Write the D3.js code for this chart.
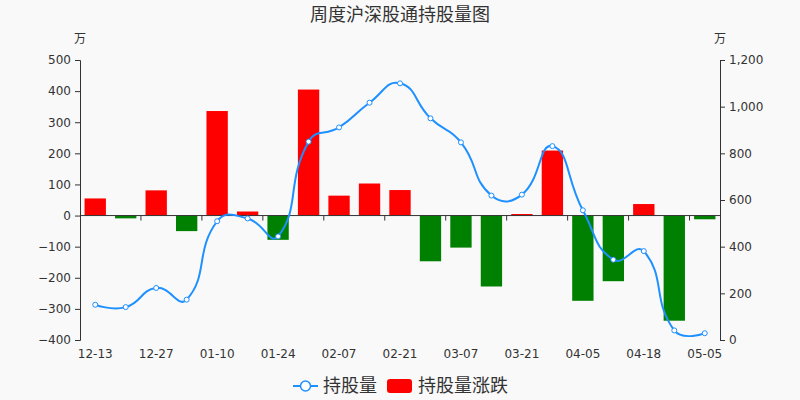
<!DOCTYPE html>
<html><head><meta charset="utf-8">
<script src="https://cdn.jsdelivr.net/npm/d3@7/dist/d3.min.js"></script>
<style>body{margin:0;background:#f9f9f9}svg{display:block}text{font-family:"DejaVu Sans",sans-serif}</style>
</head><body><svg id="c" width="800" height="400"></svg>
<script>
const categories = ["12-13","12-20","12-27","01-03","01-10","01-17","01-24","01-31","02-07","02-14","02-21","02-28","03-07","03-14","03-21","03-28","04-05","04-11","04-18","04-25","05-05"];
const holdings = [151,141,223,173,509,521,444,850,911,1017,1100,950,847,619,623,831,556,344,381,41,29];
const changes = [55,-9,81,-50,336,13,-78,405,64,103,82,-147,-103,-228,5,209,-274,-211,37,-338,-12];
const leftTicks = [500,400,300,200,100,0,-100,-200,-300,-400];
const rightTicks = [1200,1000,800,600,400,200,0];
const labelEvery = 2;

const svg = d3.select("#c");
const L = 80, R = 720, T = 60, B = 340;
const x = d3.scaleBand().domain(categories).range([L, R]).paddingInner(0).paddingOuter(0);
const yL = d3.scaleLinear().domain([-400, 500]).range([B, T]);
const yR = d3.scaleLinear().domain([0, 1200]).range([B, T]);
const txt = "#333";

svg.append("rect").attr("width",800).attr("height",400).attr("fill","#f9f9f9");

// title
svg.append("text").attr("x",400).attr("y",21).attr("text-anchor","middle")
  .attr("font-size",18).attr("fill",txt).style("font-family","'Noto Sans CJK SC',sans-serif").text("周度沪深股通持股量图");
// units
svg.append("text").attr("x",80).attr("y",43).attr("text-anchor","middle").attr("font-size",12).attr("fill",txt)
  .style("font-family","'Noto Sans CJK SC',sans-serif").text("万");
svg.append("text").attr("x",720).attr("y",43).attr("text-anchor","middle").attr("font-size",12).attr("fill",txt)
  .style("font-family","'Noto Sans CJK SC',sans-serif").text("万");

// bars
const bw = x.bandwidth() * 0.7;
svg.append("g").selectAll("rect").data(changes).join("rect")
  .attr("x",(d,i)=>x(categories[i]) + (x.bandwidth()-bw)/2)
  .attr("width",bw)
  .attr("y",d=>d>=0?yL(d):yL(0))
  .attr("height",d=>Math.abs(yL(d)-yL(0)))
  .attr("fill",d=>d>=0?"#ff0000":"#008000");

// left axis
const gL = svg.append("g").attr("transform",`translate(${L},0)`)
  .call(d3.axisLeft(yL).tickValues(leftTicks).tickSize(5).tickPadding(4));
gL.select(".domain").attr("stroke","#333");
gL.selectAll(".tick line").attr("stroke","#333");
gL.selectAll("text").attr("font-size",12).attr("fill",txt).style("font-family","'DejaVu Sans'");
// right axis
const gR = svg.append("g").attr("transform",`translate(${R},0)`)
  .call(d3.axisRight(yR).tickValues(rightTicks).tickSize(5).tickPadding(4).tickFormat(d3.format(",")));
gR.select(".domain").attr("stroke","#333");
gR.selectAll(".tick line").attr("stroke","#333");
gR.selectAll("text").attr("font-size",12).attr("fill",txt).style("font-family","'DejaVu Sans'");

// x axis line at zero
const y0 = yL(0);
const gX = svg.append("g");
gX.append("line").attr("x1",L).attr("x2",R).attr("y1",y0).attr("y2",y0).attr("stroke","#333");
gX.selectAll("line.tk").data(categories.filter((c,i)=>i>0 && i%labelEvery===0)).join("line").attr("class","tk")
  .attr("x1",d=>x(d)).attr("x2",d=>x(d)).attr("y1",y0).attr("y2",y0+5).attr("stroke","#333");
gX.selectAll("text").data(categories.filter((c,i)=>i%labelEvery===0)).join("text")
  .attr("x",d=>x(d)+x.bandwidth()/2).attr("y",358).attr("text-anchor","middle")
  .attr("font-size",12).attr("fill",txt).text(d=>d);

// smooth line (echarts-like)
const pts = holdings.map((v,i)=>[x(categories[i])+x.bandwidth()/2, yR(v)]);
function smoothPath(p, s){
  let d = `M${p[0][0]},${p[0][1]}`;
  let cp0 = p[0];
  for(let i=1;i<p.length;i++){
    const cur=p[i];
    let cp1, nextCp;
    if(i<p.length-1){
      const prev=p[i-1], next=p[i+1];
      const vx=next[0]-prev[0], vy=next[1]-prev[1];
      const l0=Math.hypot(cur[0]-prev[0],cur[1]-prev[1]);
      const l1=Math.hypot(next[0]-cur[0],next[1]-cur[1]);
      const r=l1/(l0+l1);
      cp1=[cur[0]-vx*s*(1-r), cur[1]-vy*s*(1-r)];
      nextCp=[cur[0]+vx*s*r, cur[1]+vy*s*r];
    } else { cp1=cur; nextCp=cur; }
    d+=`C${cp0[0]},${cp0[1]} ${cp1[0]},${cp1[1]} ${cur[0]},${cur[1]}`;
    cp0=nextCp;
  }
  return d;
}
svg.append("path").attr("d",smoothPath(pts,0.5)).attr("fill","none").attr("stroke","#1e90ff").attr("stroke-width",2);
svg.append("g").selectAll("circle").data(pts).join("circle")
  .attr("cx",d=>d[0]).attr("cy",d=>d[1]).attr("r",2.5)
  .attr("fill","#fff").attr("stroke","#1e90ff").attr("stroke-width",1);

// legend
const lg = svg.append("g");
lg.append("line").attr("x1",293).attr("x2",318).attr("y1",386).attr("y2",386).attr("stroke","#1e90ff").attr("stroke-width",2);
lg.append("circle").attr("cx",305.5).attr("cy",386).attr("r",5).attr("fill","#fff").attr("stroke","#1e90ff").attr("stroke-width",1.5);
lg.append("text").attr("x",323).attr("y",392).attr("font-size",18).attr("fill",txt)
  .style("font-family","'Noto Sans CJK SC',sans-serif").text("持股量");
lg.append("rect").attr("x",387).attr("y",379).attr("width",25).attr("height",14).attr("rx",3).attr("fill","#ff0000");
lg.append("text").attr("x",418).attr("y",392).attr("font-size",18).attr("fill",txt)
  .style("font-family","'Noto Sans CJK SC',sans-serif").text("持股量涨跌");
</script></body></html>
